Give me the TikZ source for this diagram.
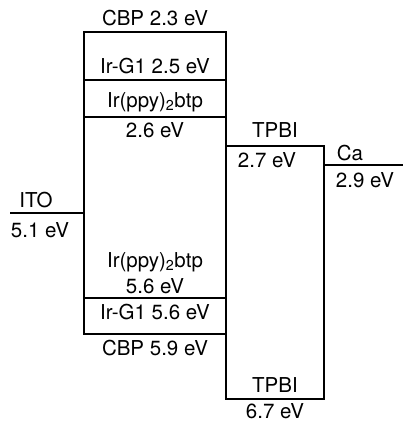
\documentclass[tikz,border=0pt]{standalone}
\usepackage{fontspec}
\setmainfont{TeX Gyre Heros}
\usetikzlibrary{positioning, calc}

\begin{document}
\begin{tikzpicture}[x=1pt, y=-1pt, lvl/.style={line width=1.5pt}, lbl/.style={font=\fontsize{20.5}{22}\selectfont, inner sep=0pt}]
    \useasboundingbox (0, 0) rectangle (403, 422);

    % CBP block
    \coordinate (cbpTL) at (84, 32);
    \coordinate (cbpBR) at (226, 334);
    \draw[lvl] (cbpTL) rectangle (cbpBR);
    \draw[lvl] (84, 80) -- (226, 80);
    \draw[lvl] (84, 117) -- (226, 117);
    \draw[lvl] (84, 298) -- (226, 298);

    % TPBI block
    \draw[lvl] (226, 146) rectangle (324, 399);

    % electrodes
    \draw[lvl] (10, 213) -- (84, 213);
    \draw[lvl] (324, 165) -- (403, 165);

    % labels
    \node[lbl] (cbpL) at (155, 18) {CBP 2.3 eV};
    \node[lbl] (irgL) at (155, 66) {Ir-G1 2.5 eV};
    \node[lbl] (irpL) at (155, 102) {Ir(ppy)\textsubscript{2}btp};
    \node[lbl] (irpLe) at (155, 130) {2.6 eV};
    \node[lbl] (tpbiL) at (275, 130) {TPBI};
    \node[lbl] (tpbiLe) at (267, 160) {2.7 eV};
    \node[lbl] (caL) at (350, 153) {Ca};
    \node[lbl] (caLe) at (365, 180) {2.9 eV};
    \node[lbl] (itoL) at (36, 200) {ITO};
    \node[lbl] (itoLe) at (40, 230) {5.1 eV};
    \node[lbl] (irpH) at (155, 262) {Ir(ppy)\textsubscript{2}btp};
    \node[lbl] (irpHe) at (155, 286) {5.6 eV};
    \node[lbl] (irgH) at (155, 312) {Ir-G1 5.6 eV};
    \node[lbl] (cbpH) at (155, 348) {CBP 5.9 eV};
    \node[lbl] (tpbiH) at (275, 385) {TPBI};
    \node[lbl] (tpbiHe) at (275, 411) {6.7 eV};
\end{tikzpicture}
\end{document}
